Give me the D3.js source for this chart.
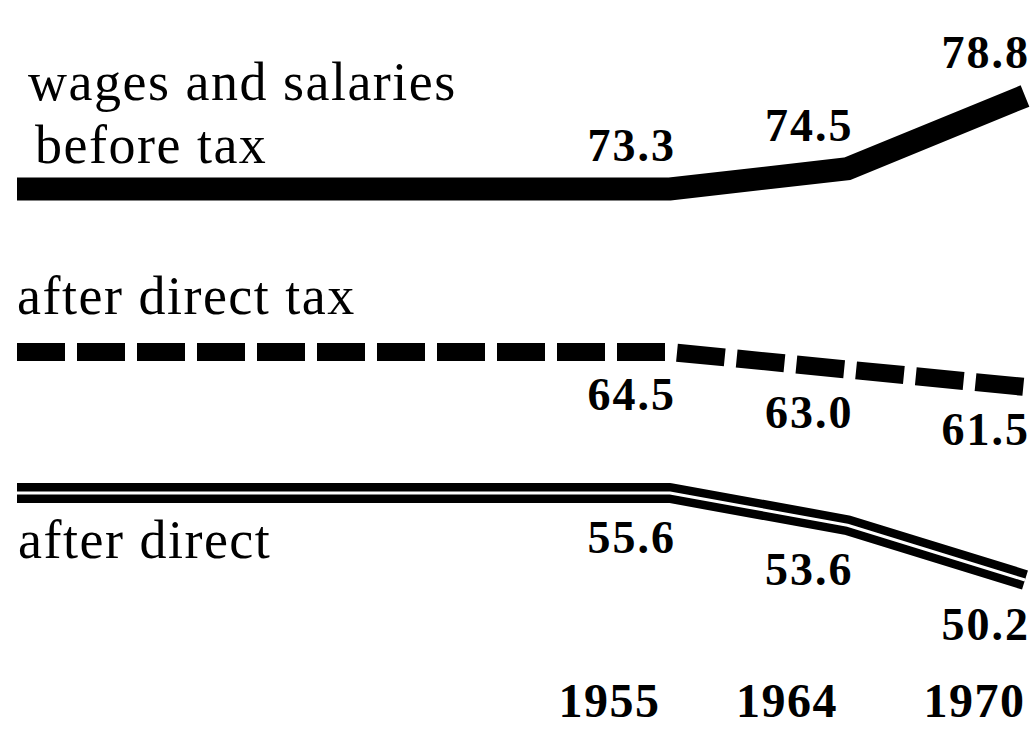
<!DOCTYPE html>
<html>
<head>
<meta charset="utf-8">
<script src="https://cdn.jsdelivr.net/npm/d3@7"></script>
<style>
  html, body { margin: 0; padding: 0; background: #fff; }
  svg { display: block; }
</style>
</head>
<body>
<div id="chart"></div>
<script>
// Données
const years          = ['1955', '1964', '1970'];
const beforeTax      = [73.3, 74.5, 78.8];
const afterDirectTax = [64.5, 63.0, 61.5];
const afterDirect    = [55.6, 53.6, 50.2];

const seriesNames = [
  ['wages and salaries', 'before tax'],
  ['after direct tax'],
  ['after direct'],
];

const W = 1034, H = 730;
const LEFT = 17, RIGHT = 1025;
const FONT = '"Liberation Serif", "Times New Roman", serif';

// chaque courbe a sa propre bande verticale (graphique non à l'échelle)
const SERIES = [
  { values: beforeTax,      band: [96, 189],  style: 'thick',  labelDy: -28,
    names: [{ x: 28, y: 100 }, { x: 35, y: 163 }] },
  { values: afterDirectTax, band: [352, 387], style: 'dashed', labelDy: 58,
    names: [{ x: 17, y: 314 }] },
  { values: afterDirect,    band: [493, 580], style: 'double', labelDy: 60,
    names: [{ x: 18, y: 558 }] },
];

const svg = d3.select('#chart').append('svg')
  .attr('width', W).attr('height', H);

const x = d3.scalePoint().domain(years).range([670, RIGHT]);

SERIES.forEach((s, si) => {
  const y = d3.scaleLinear()
    .domain([d3.max(s.values), d3.min(s.values)])
    .range(s.band);

  const pts = years.map((yr, i) => ({ year: yr, value: s.values[i] }));
  // amorce horizontale depuis la marge gauche
  const path = [{ year: null, value: s.values[0] }, ...pts];
  const line = d3.line()
    .x(d => d.year === null ? LEFT : x(d.year))
    .y(d => y(d.value));

  const g = svg.append('g');

  if (s.style === 'thick') {
    g.append('path').attr('d', line(path))
      .attr('fill', 'none').attr('stroke', '#000')
      .attr('stroke-width', 23).attr('stroke-linejoin', 'miter');
  } else if (s.style === 'dashed') {
    g.append('path').attr('d', line(path))
      .attr('fill', 'none').attr('stroke', '#000')
      .attr('stroke-width', 18).attr('stroke-linejoin', 'round')
      .attr('stroke-dasharray', '48,12');
  } else {
    g.append('path').attr('d', line(path))
      .attr('fill', 'none').attr('stroke', '#000')
      .attr('stroke-width', 20).attr('stroke-linejoin', 'round');
    g.append('path').attr('d', line(path))
      .attr('fill', 'none').attr('stroke', '#fff')
      .attr('stroke-width', 3).attr('stroke-linejoin', 'round');
  }

  // valeurs
  g.selectAll('text.val').data(pts).join('text')
    .attr('class', 'val')
    .attr('x', d => Math.min(x(d.year) + 6, 1030))
    .attr('y', d => y(d.value) + s.labelDy)
    .attr('text-anchor', 'end')
    .style('font-family', FONT).style('font-weight', 'bold')
    .style('font-size', '46px').style('letter-spacing', '2px')
    .text(d => d.value.toFixed(1));

  // libellé de la série
  seriesNames[si].forEach((txt, k) => {
    g.append('text')
      .attr('x', s.names[k].x).attr('y', s.names[k].y)
      .style('font-family', FONT).style('font-size', '54px')
      .style('letter-spacing', '1.5px')
      .text(txt);
  });
});

// axe des années
svg.append('g')
  .attr('transform', 'translate(0,717)')
  .call(d3.axisBottom(x).tickSize(0).tickPadding(0))
  .call(gg => gg.select('.domain').remove())
  .call(gg => gg.selectAll('text')
    .attr('text-anchor', 'end')
    .attr('dy', 0)
    .attr('x', d => d === '1970' ? 0 : -10)
    .style('fill', '#000')
    .style('font-family', FONT).style('font-weight', 'bold')
    .style('font-size', '48px').style('letter-spacing', '1.5px'));
</script>
</body>
</html>
